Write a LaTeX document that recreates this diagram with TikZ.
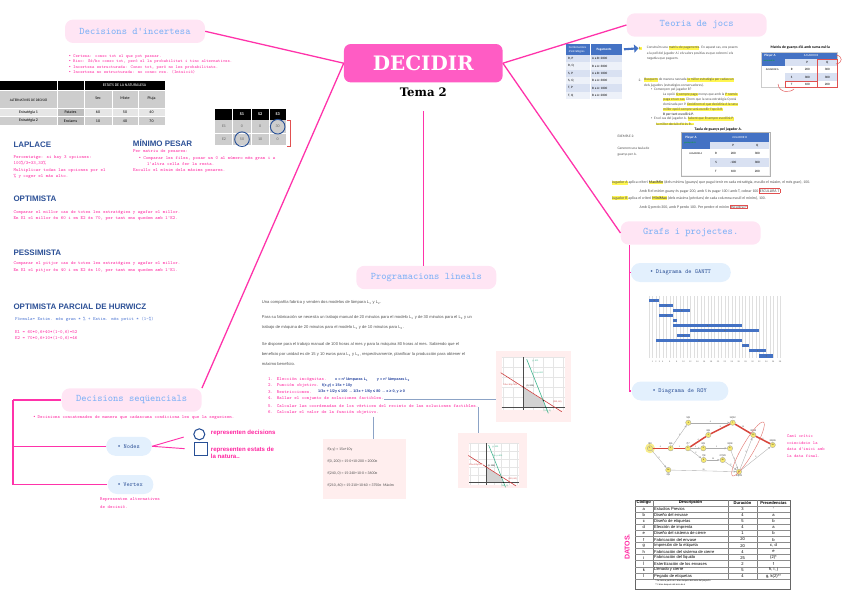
\documentclass[tikz,border=0pt]{standalone}
\usepackage{fontspec}
\setsansfont{Liberation Sans}
\newfontfamily\slabfont{DejaVu Serif}
\newfontfamily\calfont{Carlito}
\usepackage{xcolor}
\usepackage{tikz}
\usetikzlibrary{positioning,calc,arrows.meta}
\definecolor{mappink}{RGB}{255,51,170}
\definecolor{rootpink}{RGB}{255,92,196}
\definecolor{boxpink}{RGB}{255,229,244}
\definecolor{titleblue}{RGB}{128,178,246}
\definecolor{bubbleblue}{RGB}{227,240,253}
\definecolor{inkblue}{RGB}{44,80,150}
\definecolor{notepink}{RGB}{255,38,160}
\definecolor{formblue}{RGB}{80,120,210}
\definecolor{tblgrey}{RGB}{205,205,205}
\definecolor{tblmid}{RGB}{190,190,190}
\definecolor{tbllight}{RGB}{230,230,230}
\definecolor{circblue}{RGB}{40,80,150}
\definecolor{boxred}{RGB}{225,80,80}
\definecolor{officeblue}{RGB}{68,114,196}
\definecolor{rowblue}{RGB}{217,225,242}
\definecolor{rowpale}{RGB}{237,241,249}
\definecolor{hlyellow}{RGB}{255,246,80}
\definecolor{steel}{RGB}{140,163,198}
\definecolor{paperpink}{RGB}{255,238,238}
\definecolor{lpred}{RGB}{205,60,60}
\definecolor{lpgreen}{RGB}{60,180,140}
\definecolor{royyellow}{RGB}{246,232,110}
\definecolor{critred}{RGB}{215,70,60}
\definecolor{handblue}{RGB}{40,70,160}
\definecolor{textgrey}{RGB}{80,80,80}

\newcommand\fsz[2]{\fontsize{#1}{#2}\selectfont}
\newcommand\bul{{\sffamily\textbullet}}
\newcommand\hlt[1]{{\setlength\fboxsep{0.15pt}\colorbox{hlyellow}{#1}}}
\newcommand\rbox[1]{{\setlength\fboxsep{0.3pt}\setlength\fboxrule{0.3pt}\fcolorbox{boxred}{white}{#1}}}

\tikzset{
  rootbox/.style={fill=rootpink, rounded corners=2mm, minimum width=47.6mm, minimum height=11.5mm, text=white, font=\slabfont\bfseries\fsz{17}{20}},
  topicbox/.style={fill=boxpink, rounded corners=2.4mm, minimum width=42mm, minimum height=7mm, text=titleblue, font=\ttfamily\fsz{8.6}{10}},
  bubble/.style={fill=bubbleblue, rounded corners=2.8mm, minimum height=5.7mm, text=inkblue, font=\ttfamily\fsz{5.2}{6}},
  maplink/.style={draw=mappink, line width=1.1pt},
  steelink/.style={draw=steel, line width=0.8pt},
  heading/.style={anchor=west, inner sep=0, text=inkblue, font=\sffamily\bfseries\fsz{6.8}{8}},
  note/.style={anchor=west, inner sep=0, align=left, text=notepink, font=\ttfamily\fsz{4}{5.4}},
  hand/.style={anchor=west, inner sep=0, align=left, text=notepink, font=\sffamily\bfseries\fsz{5.2}{6.5}},
  graytext/.style={anchor=west, inner sep=0, align=left, text=textgrey, font=\sffamily\fsz{3.5}{8.5}},
  calnote/.style={anchor=west, inner sep=0, align=left, text=textgrey, font=\calfont\fsz{3}{4.4}},
  tblcell/.style={inner sep=0, font=\calfont\fsz{3.4}{4}},
  lplab/.style={inner sep=0, font=\sffamily\fsz{1.8}{2}},
  roynode/.style={circle, fill=royyellow, draw=gray!70, line width=0.3pt, minimum size=1.6mm, inner sep=0, font=\sffamily\fsz{1.6}{2}},
  roylab/.style={inner sep=0.3pt, font=\sffamily\fsz{2.1}{2.5}, text=black!80},
  roylink/.style={draw=gray!65, line width=0.3pt, -{Stealth[length=0.8mm]}},
  critlink/.style={draw=critred, line width=1.3pt},
  edgelab/.style={inner sep=0.2pt, font=\sffamily\fsz{1.7}{2}, text=black!70},
  gantbar/.style={fill=officeblue}
}

% LP plot drawn around the origin of its axes
\newcommand\lpplot[1]{%
  \fill[white] (-21.6,-50.3) rectangle (41.7,2.7);
  \foreach \g in {-20,-10,...,40} \draw[gray!20, line width=0.2pt] (\g,-50.3) -- (\g,2.7);
  \foreach \g in {-50,-40,...,0} \draw[gray!20, line width=0.2pt] (-21.6,\g) -- (41.7,\g);
  \fill[gray!35] (0,0) -- (0,-20.2) -- (20,-6.6) -- (22.6,0) -- cycle;
  \draw[black!70, line width=0.3pt] (-21.6,0) -- (41.7,0);
  \draw[black!70, line width=0.3pt] (0,-50.3) -- (0,2.7);
  \draw[lpred, line width=0.5pt] (-22.6,-34.6) -- (38.4,4.4);
  \draw[lpgreen, line width=0.5pt] (3.4,-48) -- (25,6);
  \fill[black] (0,-20.2) circle (0.6) (20,-6.6) circle (0.6) (22.6,0) circle (0.6);
  \node[lplab, text=lpgreen] (#1-g) at (12,-46) {g: 400};
  \node[lplab, text=lpgreen] (#1-h) at (15,-34) {3x+y=400};
  \node[lplab, text=lpred, fill=white, inner sep=0.3pt] (#1-f) at (-13,-22) {1/3x+1/2y=100};
  \node[lplab] (#1-a) at (7,-21) {(0, 200)};
  \node[lplab, text=lpred] (#1-b) at (34,-5) {(210, 60)};
  \node[lplab, text=lpgreen] (#1-c) at (24,4) {(240, 0)};
}

\begin{document}
\begin{tikzpicture}[x=0.3mm, y=-0.3mm, >=Stealth]
\useasboundingbox (0,0) rectangle (848,599);

% Centre
\node[rootbox] (root) at (423.3,63.2) {DECIDIR};
\node[font=\slabfont\bfseries\fsz{10}{12}] (tema) at (423.3,92.3) {Tema 2};

% Decisions d'incertesa
\node[topicbox] (incert) at (135,31.3) {Decisions d'incertesa};
\draw[maplink] (incert.east) -- (root.west);
\node[note, font=\ttfamily\fsz{3.8}{4.7}] (incertnotes) at (69,64.5) {%
  \bul\ Certesa: conec tot el que pot passar.\\
  \bul\ Risc: Sé/ho conec tot, però el la probabilitat i tinc alternatives.\\
  \bul\ Incertesa estructurada: Conec tot, però no les probabilitats.\\
  \bul\ Incertesa no estructurada: no conec res. (Intuïció)};

% Payoff table
\fill[black] (0,81) rectangle (165,90);
\fill[tblgrey] (0,90) rectangle (165,108);
\fill[tbllight] (0,108) rectangle (165,116.5);
\fill[tblgrey] (0,116.5) rectangle (165,125);
\fill[tblmid] (57,108) rectangle (84,125);
\foreach \cx in {57,84} \draw[white, line width=0.5pt] (\cx,81) -- (\cx,125);
\foreach \cx in {112,138} \draw[white, line width=0.5pt] (\cx,90) -- (\cx,125);
\foreach \cy in {90,108,116.5} \draw[white, line width=0.5pt] (0,\cy) -- (165,\cy);
\node[tblcell, text=white] (estats) at (124.5,85.5) {ESTATS DE LA NATURALESA};
\node[tblcell, font=\calfont\fsz{3}{4}] (altern) at (28.5,100) {ALTERNATIVES DE DECISIÓ};
\node[tblcell] (sec) at (98,98) {Sec};
\node[tblcell] (mixte) at (125,98) {Mixte};
\node[tblcell] (pluja) at (151.5,98) {Pluja};
\foreach \i/\yy/\e/\cr/\va/\vb/\vc in {1/112.3/Estratègia 1/Patates/60/50/40, 2/120.8/Estratègia 2/Enciams/10/40/70} {
  \node[tblcell] (estr\i) at (28.5,\yy) {\e};
  \node[tblcell] (crop\i) at (70.5,\yy) {\cr};
  \node[tblcell] (sec\i) at (98,\yy) {\va};
  \node[tblcell] (mix\i) at (125,\yy) {\vb};
  \node[tblcell] (plu\i) at (151.5,\yy) {\vc};
}

% Regret table
\fill[black] (215,109) rectangle (286,120);
\fill[tblgrey] (215,120) rectangle (286,145);
\foreach \cx in {232.7,251,269.3} \draw[white, line width=0.5pt] (\cx,109) -- (\cx,145);
\draw[white, line width=0.5pt] (215,133.3) -- (286,133.3);
\foreach \i/\cx in {1/242,2/260.2,3/277.7}
  \node[tblcell, text=white, font=\calfont\bfseries\fsz{3.6}{4}] (s\i) at (\cx,114.5) {S\i};
\foreach \i/\yy/\va/\vb/\vc in {1/126.7/0/0/30, 2/139.2/50/10/0} {
  \node[tblcell, text=black!60] (e\i) at (224,\yy) {E\i};
  \node[tblcell, text=black!60] (r\i-1) at (242,\yy) {\va};
  \node[tblcell, text=black!60] (r\i-2) at (260.2,\yy) {\vb};
  \node[tblcell, text=black!60] (r\i-3) at (277.7,\yy) {\vc};
}
\draw[circblue, line width=0.8pt] (r1-3) circle (7.3);
\draw[circblue, line width=0.8pt] (r2-1) circle (7.3);
\draw[boxred, line width=0.6pt] (287,120.7) -- (290,120.7) -- (290,146.7) -- (287,146.7);

% Criteria
\node[heading] (laplace) at (13.3,145) {LAPLACE};
\node[note] (laplacetxt) at (13.3,167) {Percentatge: si hay 3 opciones:\\100\%/3=33,33\%\\Multiplicar todas las opciones por el\\\% y coger el más alto.};
\node[heading] (minimo) at (132.7,143.3) {MÍNIMO PESAR};
\node[note] (minimo1) at (133,151.7) {Per matriu de pesares:};
\node[note] (minimo2) at (139,158.3) {\bul\ Comparar les files, posar un 0 al número més gran i a};
\node[note] (minimo3) at (147,164) {l'altra cella fer la resta.};
\node[note] (minimo4) at (133,171) {Escullo el mínim dels màxims pesares.};
\node[heading] (optim) at (13.3,198.3) {OPTIMISTA};
\node[note] (optimtxt) at (13.3,215.3) {Comparar el millor cas de totes les estratègies y agafar el millor.\\En E1 el millor és 60 i en E2 és 70, per tant ens quedem amb l'E2.};
\node[heading] (pessim) at (13.3,252.7) {PESSIMISTA};
\node[note] (pessimtxt) at (13.3,267) {Comparar el pitjor cas de totes les estratègies y agafar el millor.\\En E1 el pitjor és 40 i en E2 és 10, per tant ens quedem amb l'E1.};
\node[heading] (hurwicz) at (13.3,306.7) {OPTIMISTA PARCIAL DE HURWICZ};
\node[note, text=formblue] (formula) at (15,319.3) {Fórmula= Estim. més gran * \% + Estim. més petit * (1-\%)};
\node[note, font=\ttfamily\fsz{4}{5.6}] (hurwicztxt) at (15,335) {E1 = 60*0,6+40*(1-0,6)=52\\E2 = 70*0,6+10*(1-0,6)=46};

% Decisions sequencials
\node[topicbox] (seq) at (131.7,400) {Decisions seqüencials};
\draw[maplink] (seq.north east) -- (root.west);
\node[note] (seqtxt) at (33.3,417.7) {\bul\ Decisions concatenades de manera que cadascuna condiciona les que la segueixen.};
\node[bubble, minimum width=13.7mm] (nodesb) at (129,446.3) {\bul\ Nodes};
\node[bubble, minimum width=13.7mm] (vertexb) at (130.5,484.5) {\bul\ Vertex};
\draw[maplink] (seq.west) -- ++(-48.4,0) coordinate (seqspine);
\draw[maplink] (seqspine) |- (nodesb.west);
\draw[maplink] (seqspine) |- (vertexb.west);
\node[circle, draw=circblue, line width=0.9pt, minimum size=3.3mm, inner sep=0] (circ) at (199.3,434.3) {};
\node[draw=circblue, line width=0.9pt, minimum size=4mm, inner sep=0] (sq) at (200.7,449.3) {};
\draw[maplink, line width=0.8pt, shorten >=3mm] (nodesb.east) -- (circ.west);
\draw[maplink, line width=0.8pt, shorten >=2.7mm] (nodesb.east) -- (sq.west);
\node[hand] (decis) at (210.7,433.3) {representen decisions};
\node[hand] (estats2) at (210.7,452.8) {representen estats de\\la natura..};
\node[note, font=\ttfamily\fsz{4}{6.5}] (vertextxt) at (100,502.8) {Representen alternatives\\de decisió.};

% Programacions lineals
\node[topicbox] (lineals) at (426.3,277.5) {Programacions lineals};
\draw[maplink, shorten <=3mm] (tema.south) -- (tema.south |- lineals.north);
\node[graytext] (lpa) at (261.7,302.3) {Una compañía fabrica y venden dos modelos de lámpara L\textsubscript{1} y L\textsubscript{2}.};
\node[graytext] (lpb) at (261.7,322.5) {Para su fabricación se necesita un trabajo manual de 20 minutos para el modelo L\textsubscript{1} y de 30 minutos para el L\textsubscript{2} y un\\trabajo de máquina de 20 minutos para el modelo L\textsubscript{1} y de 10 minutos para L\textsubscript{2}.};
\node[graytext] (lpc) at (261.7,354) {Se dispone para el trabajo manual de 100 horas al mes y para la máquina 80 horas al mes. Sabiendo que el\\beneficio por unidad es de 15 y 10 euros para L\textsubscript{1} y L\textsubscript{2}, respectivamente, planificar la producción para obtener el\\máximo beneficio.};
\foreach \i/\yy/\t in {1/380/Elección incógnitas., 2/385.7/Función objetivo., 3/391.7/Restricciones., 4/399/Hallar el conjunto de soluciones factibles., 5/405.7/Calcular las coordenadas de los vértices del recinto de las soluciones factibles., 6/412.3/Calcular el valor de la función objetivo.}
  \node[note] (lp\i) at (268,\yy) {\makebox[2.6mm][l]{\i.}\t};
\node[hand, text=handblue, font=\sffamily\bfseries\fsz{3.2}{4}] (lpx) at (335,380) {x = nº lámparas L\textsubscript{1}};
\node[hand, text=handblue, font=\sffamily\bfseries\fsz{3.2}{4}] (lpy) at (376.7,380) {y = nº lámparas L\textsubscript{2}};
\node[hand, text=handblue, font=\sffamily\bfseries\fsz{3.2}{4}] (lpf) at (322,385.7) {f(x,y) = 15x + 10y};
\node[hand, text=handblue, font=\sffamily\bfseries\fsz{3.2}{4}] (lpr) at (318,391.7) {1/3x + 1/2y ≤ 100 → 1/3x + 1/6y ≤ 80 → x ≥ 0, y ≥ 0};
\node[fill=paperpink, minimum width=22.4mm, minimum height=21.4mm, inner sep=0] (graphA) at (533.3,386.3) {};
\node[fill=paperpink, minimum width=20.6mm, minimum height=16.5mm, inner sep=0] (graphB) at (492.4,460.5) {};
\node[fill=paperpink, minimum width=24.9mm, minimum height=18mm, inner sep=0] (valbox) at (364.2,469) {};
\begin{scope}[shift={(523.3,407.3)}]
  \lpplot{pa}
\end{scope}
\begin{scope}[shift={(486,482.5)}, scale=0.78]
  \lpplot{pb}
\end{scope}
\node[calnote, font=\calfont\fsz{3.3}{4}] (val1) at (327.3,449) {f(x,y) = 15x+10y};
\node[calnote, font=\calfont\fsz{3.3}{4}] (val2) at (327.3,461) {f(0, 200) = 15·0+10·200 = 2000€};
\node[calnote, font=\calfont\fsz{3.3}{4}] (val3) at (327.3,473.3) {f(240, 0) = 15·240+10·0 = 3600€};
\node[calnote, font=\calfont\fsz{3.3}{4}] (val4) at (327.3,485) {f(210, 60) = 15·210+10·60 = 3750€ \ Màxim};
\draw[steelink] (lp4.east) -- (lp4.east -| graphA.west);
\draw[steelink] (lp5.south east) -- (lp5.south east |- graphB.north);
\coordinate (valtop) at (373.3,416.7);
\draw[steelink] (valtop) -- (valtop |- valbox.north);

% Teoria de jocs
\node[topicbox] (jocs) at (696.7,25) {Teoria de jocs};
\draw[maplink] (root.east) -- (jocs.west);
\fill[officeblue] (565.7,44.3) rectangle (621.7,55);
\node[tblcell, text=white, align=left, font=\calfont\fsz{2.6}{3}] (pagh1) at (577.5,49.6) {Combinacions\\d'estratègies};
\node[tblcell, text=white, font=\calfont\bfseries\fsz{2.8}{3}] (pagh2) at (604,49.6) {Pagaments};
\foreach \i/\rc/\ca/\cb in {0/rowblue/{R, P}/{A a B: 2000}, 1/rowpale/{R, Q}/{B a A: 3000}, 2/rowblue/{S, P}/{A a B: 1000}, 3/rowpale/{S, Q}/{B a A: 3000}, 4/rowblue/{T, P}/{B a A: 1000}, 5/rowpale/{T, Q}/{B a A: 2000}} {
  \fill[\rc] (565.7,{55+7.33*\i}) rectangle (621.7,{62.33+7.33*\i});
  \node[tblcell, anchor=west, font=\calfont\fsz{2.8}{3}] (pagc\i) at (568,{58.7+7.33*\i}) {\ca};
  \node[tblcell, anchor=west, font=\calfont\fsz{2.8}{3}] (pagp\i) at (592,{58.7+7.33*\i}) {\cb};
}
\draw[white, line width=0.4pt] (590,44.3) -- (590,99);
\node[calnote, font=\calfont\fsz{3}{4}] (num1) at (638.5,48.3) {\hlt{1.}};
\coordinate (arrowtail) at (624,49.3);
\draw[officeblue, line width=1.8pt, -{Triangle[length=1.3mm, width=2.4mm]}] (arrowtail) -- (num1.west);
\node[calnote] (jocs1) at (646.7,53) {Construïm una \hlt{matriu de pagaments}. En aquest cas, ens posem\\a la pell del jugador A i els valors positius es que cobrem i els\\negatius que paguem.};
\node[calnote] (num2) at (638.5,80) {2.};
\node[calnote] (jocs2a) at (644,82.5) {\hlt{Busquem} de manera raonada \hlt{la millor estratègia per cadascun}\\dels jugadors (estratègies conservadores).};
\node[calnote] (jocs2b) at (651,90) {\bul\ \ Començem pel jugador B?};
\node[calnote, font=\calfont\fsz{3}{4.25}] (jocs2c) at (663,104.3) {La opció \hlt{Q sempre paga} menys que amb la \hlt{P només}\\\hlt{paga en un cas.} Direm que la seva estratègia Q està\\dominada per P. \hlt{Decidirem el que decidiria A la seva}\\\hlt{millor opció sempre serà escollir l'opció R.}\\\textbf{B per tant escollirà P.}};
\node[calnote] (jocs2d) at (651,119) {\bul\ \ En el cas del jugador A. \hlt{Sabent que B sempre escollirà P,}};
\node[calnote] (jocs2e) at (656,124) {\hlt{la millor decisió d'A és R...}};

% Zero-sum matrix
\node[tblcell, font=\calfont\bfseries\fsz{3.2}{4}] (sumtitle) at (800.3,47.3) {Matriu de guanys d'A amb suma nul·la};
\fill[white] (760.7,51.7) rectangle (837.3,87.3);
\fill[officeblue] (760.7,51.7) rectangle (785,65.7);
\fill[officeblue] (785,51.7) rectangle (837.3,59.3);
\fill[rowblue] (785,59.3) rectangle (837.3,65.7);
\fill[rowblue] (785,73.3) rectangle (837.3,80.7);
\draw[gray!40, line width=0.3pt] (760.7,51.7) rectangle (837.3,87.3);
\node[tblcell, text=white, align=left, font=\calfont\bfseries\fsz{2.8}{3}] (pa0) at (770,56) {Player A};
\node[tblcell, text=green!70!black, font=\calfont\fsz{2}{2.5}] (pa0b) at (769,61) {suma nul·la};
\node[tblcell, text=white, font=\calfont\fsz{2.6}{3}] (jb0) at (811,55.5) {JUGADOR B};
\node[tblcell, font=\calfont\fsz{2.8}{3}] (p0) at (807.3,62.5) {P};
\node[tblcell, font=\calfont\fsz{2.8}{3}] (q0) at (827.3,62.5) {Q};
\node[tblcell, font=\calfont\fsz{2.3}{3}] (ja0) at (772.3,69.3) {JUGADOR A};
\foreach \i/\yy/\st/\vp/\vq in {1/69.3/R/200/300, 2/77.3/S/300/300, 3/84.3/T/100/200} {
  \node[tblcell, font=\calfont\fsz{2.8}{3}] (zs\i) at (791.7,\yy) {\st};
  \node[tblcell, font=\calfont\fsz{2.8}{3}] (zp\i) at (807.3,\yy) {\vp};
  \node[tblcell, font=\calfont\fsz{2.8}{3}] (zq\i) at (827.3,\yy) {\vq};
}
\draw[boxred, line width=0.5pt] (817.7,59.3) rectangle (837.3,87.3);
\draw[boxred, line width=0.5pt] (785.7,81) rectangle (817.7,87.3);
\draw[boxred, line width=0.4pt] (836,55) .. controls (843,56) and (843,63) .. (836,64);
\draw[boxred, line width=0.4pt] (778,84) .. controls (779,93) and (790,93) .. (794,89);

% Example 2
\node[calnote] (exemple) at (617.3,136.7) {EXEMPLE 2:};
\node[calnote, font=\calfont\fsz{3}{4.5}] (generem) at (617.3,151.7) {Generem una taula de\\guanys per A.};
\node[tblcell, font=\calfont\bfseries\fsz{3.2}{4}] (guanystitle) at (718.3,130) {Taula de guanys pel jugador A.};
\draw[gray!60, fill=gray!12, line width=0.8pt] (681,132.7) rectangle (770,176);
\fill[white] (682.3,133.3) rectangle (769.3,175.3);
\fill[officeblue] (682.3,133.3) rectangle (710,149.3);
\fill[officeblue] (710,133.3) rectangle (769.3,141.7);
\fill[rowblue] (710,141.7) rectangle (769.3,149.3);
\fill[rowblue] (710,158) rectangle (769.3,166.7);
\node[tblcell, text=white, font=\calfont\bfseries\fsz{2.8}{3}] (pa1) at (691,138) {Player A};
\node[tblcell, text=green!70!black, font=\calfont\fsz{2}{2.5}] (pa1b) at (690,143) {guanys de A};
\node[tblcell, text=white, font=\calfont\fsz{2.6}{3}] (jb1) at (739.7,137.5) {JUGADOR B};
\node[tblcell, font=\calfont\fsz{2.8}{3}] (p1) at (733.3,145.5) {P};
\node[tblcell, font=\calfont\fsz{2.8}{3}] (q1) at (757.3,145.5) {Q};
\node[tblcell, font=\calfont\fsz{2.3}{3}] (ja1) at (695.7,154) {JUGADOR A};
\foreach \i/\yy/\st/\vp/\vq in {1/153.7/R/200/300, 2/162.3/S/-100/300, 3/171/T/100/200} {
  \node[tblcell, font=\calfont\fsz{2.8}{3}] (gs\i) at (716,\yy) {\st};
  \node[tblcell, font=\calfont\fsz{2.8}{3}] (gp\i) at (733.3,\yy) {\vp};
  \node[tblcell, font=\calfont\fsz{2.8}{3}] (gq\i) at (757.3,\yy) {\vq};
}
\node[calnote, font=\calfont\fsz{3.3}{4}] (jocsA) at (611.7,182.7) {\hlt{Jugador A} aplica criteri \hlt{\textbf{MaxiMin}} (dels mínims (guanys) que pugui tenir en cada estratègia, escullo el màxim, el més gran), 100.};
\node[calnote, font=\calfont\fsz{3.3}{4}] (jocsB) at (639.3,190.7) {Amb R el mínim guany és pagar 200, amb S és pagar 100 i amb T, cobrar 100 \rbox{ESCULLIRÀ T}};
\node[calnote, font=\calfont\fsz{3.3}{4}] (jocsC) at (611.7,198.3) {\hlt{Jugador B} aplica el criteri \hlt{\textbf{MiniMax}} (dels màxims (pèrdues) de cada columna escull el mínim), 100.};
\node[calnote, font=\calfont\fsz{3.3}{4}] (jocsD) at (639.3,206.7) {Amb Q perdo 300, amb P perdo 100. Per perdre el mínim \rbox{escullirà P}.};

% Grafs i projectes
\node[topicbox] (grafs) at (690.7,233) {Grafs i projectes.};
\draw[maplink] (root.east) -- (grafs.west);
\node[bubble, minimum width=30mm] (gantt) at (680.8,272.5) {\bul\ Diagrama de GANTT};
\node[bubble, minimum width=29mm] (roy) at (680,391) {\bul\ Diagrama de ROY};
\coordinate (grafspine) at (629.3,245);
\draw[maplink] (grafspine) |- (gantt.west);
\draw[maplink] (grafspine) |- (roy.west);

% Gantt chart
\foreach \d in {0,...,38} \draw[gray!25, line width=0.25pt] ({649+3.45*\d},296) -- ({649+3.45*\d},358);
\foreach \s/\e/\r in {0/3/0, 3/7/1, 7/12/2, 3/7/3, 7/8/4, 7/27/5, 12/32/6, 8/12/7, 2/27/8, 27/29/9, 29/34/10, 32/36/11} {
  \fill[gantbar] ({649+3.45*\s},{298.65+5.05*\r}) rectangle ({649+3.45*\e},{301.95+5.05*\r});
  \fill[black!60] ({649+3.45*(\s+\e)/2},{300.3+5.05*\r}) circle (0.6);
}
\foreach \d in {1,2,3,4,6,8,...,38}
  \node[inner sep=0, font=\sffamily\fsz{1.8}{2}, text=black!60] (gd\d) at ({649+3.45*\d},361.7) {\d};

% Roy network
\fill[royyellow!80] (650,448.3) circle (5);
\foreach \n/\xx/\yy/\t in {1/650/448.3/0|0, 2/670.7/448.3/6|6, 3/688/448.3/7|7, 4/688.3/422.7/5|8, 5/703.3/448.3/8|9, 6/708.3/435/8|8, 7/732.7/422.7/12|12, 8/730/448.3/8|28, 9/703.7/460/7|8, 10/722.7/460/27|29, 12/753.3/435/32|32, 13/772.7/445/36|36}
  \node[roynode, label={[roylab]above:\t}] (n\n) at (\xx,\yy) {\n};
\foreach \n/\xx/\yy/\t in {11/739/471.7/29|29, 14/668.3/470/2|5}
  \node[roynode, label={[roylab]below:\t}] (n\n) at (\xx,\yy) {\n};
\foreach \a/\b/\w in {2/4/1, 4/7/4, 3/5/1, 5/8/1, 3/9/2, 9/10/20, 10/11/2, 8/11/1, 1/14/2, 14/11/25, 11/12/5, 11/13/5}
  \draw[roylink] (n\a) -- node[edgelab, above] (w\a-\b) {\w} (n\b);
\foreach \a/\b/\w in {1/2/6, 2/3/1, 3/6/4, 6/7/5, 7/12/20, 12/13/4}
  \draw[critlink] (n\a) -- node[edgelab, above] (w\a-\b) {\w} (n\b);
\draw[critred!70, line width=0.4pt, rotate around={60:(748,449)}] (748,449) ellipse (31 and 6);
\node[note, font=\ttfamily\fsz{3.8}{5.5}] (camitxt) at (786.7,446) {Camí crític\\coincideix la\\data d'inici amb\\la data final.};

% Data table
\node[rotate=90, inner sep=0, text=notepink, font=\sffamily\bfseries\fsz{6}{7}] (datos) at (627.3,547) {DATOS.};
\draw[black!60, line width=0.3pt] (635,500) rectangle (790,588.7);
\foreach \cx in {652.7,728.3,757} \draw[black!50, line width=0.3pt] (\cx,500) -- (\cx,578.8);
\foreach \i in {0,...,12} \draw[black!45, line width=0.25pt] (635,{506+6.07*\i}) -- (790,{506+6.07*\i});
\node[tblcell, font=\sffamily\bfseries\fsz{3.5}{4}] (cod) at (643.8,502.9) {Código};
\node[tblcell, font=\sffamily\bfseries\fsz{3.5}{4}] (desc) at (690.5,502.9) {Descripción};
\node[tblcell, font=\sffamily\bfseries\fsz{3.5}{4}] (dur) at (742.6,502.9) {Duración};
\node[tblcell, font=\sffamily\bfseries\fsz{3.5}{4}] (prec) at (773.5,502.9) {Precedencias};
\foreach \i/\cd/\ds/\du/\pr in {0/a/Estudios Previos/3/-, 1/b/Diseño del envase/4/a, 2/c/Diseño de etiquetas/5/b, 3/d/Elección de imprenta/4/a, 4/e/Diseño del sistema de cierre/1/b, 5/f/Fabricación del envase/20/b, 6/g/Impresión de la etiqueta/20/{c, d}, 7/h/Fabricación del sistema de cierre/4/e, 8/i/Fabricación del líquido/25/(2)*, 9/j/Esterilización de los envases/2/f, 10/k/Llenado y cierre/5/{h, i, j}, 11/l/Pegado de etiquetas/4/{g, k(2)**}} {
  \node[tblcell, font=\sffamily\fsz{3.5}{4}] (dc\i) at (643.8,{509.2+6.07*\i}) {\cd};
  \node[tblcell, anchor=west, font=\sffamily\fsz{3.5}{4}] (dd\i) at (654,{509.2+6.07*\i}) {\ds};
  \node[tblcell, font=\sffamily\fsz{3.5}{4}] (du\i) at (742.6,{509.2+6.07*\i}) {\du};
  \node[tblcell, font=\sffamily\fsz{3.5}{4}] (dp\i) at (773.5,{509.2+6.07*\i}) {\pr};
}
\node[tblcell, anchor=west, font=\sffamily\fsz{1.8}{2}] (foot1) at (655,580.9) {* Se inicia a partir de 2 días después del inicio del proyecto};
\node[tblcell, anchor=west, font=\sffamily\fsz{1.8}{2}] (foot2) at (655,585.2) {** 2 días después del inicio de k};
\end{tikzpicture}
\end{document}
